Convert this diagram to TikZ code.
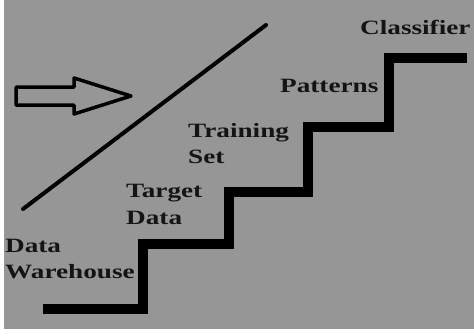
\documentclass[tikz,border=0pt]{standalone}
\usepackage{fontspec}
\setmainfont{Liberation Serif}[BoldFeatures={FakeStretch=1.34}]
\begin{document}
\begin{tikzpicture}[x=1pt,y=-1pt,
  lbl/.style={anchor=base west,inner sep=0pt,font=\fontsize{20.3}{26}\selectfont\bfseries,text=black!92},
  stairs/.style={line width=10pt,line cap=butt,line join=miter},
  slash/.style={line width=4pt,line cap=round},
  blockarrow/.style={line width=3.5pt,line join=round,fill=none}]
\useasboundingbox (0,0) rectangle (474,335);
\fill[white] (0,0) rectangle (474,335);
\fill[black!41] (4,0) rectangle (474,329);
% staircase
\coordinate (s0) at (43,309);
\coordinate (s1) at (143,309);
\coordinate (s2) at (143,244);
\coordinate (s3) at (229,244);
\coordinate (s4) at (229,192);
\coordinate (s5) at (308,192);
\coordinate (s6) at (308,127);
\coordinate (s7) at (389,127);
\coordinate (s8) at (389,58);
\coordinate (s9) at (467,58);
\draw[stairs] (s0) -- (s1) -- (s2) -- (s3) -- (s4) -- (s5) -- (s6) -- (s7) -- (s8) -- (s9);
% diagonal line
\coordinate (d0) at (23,209);
\coordinate (d1) at (266,25);
\draw[slash] (d0) -- (d1);
% block arrow
\draw[blockarrow] (16,87) -- (74,87) -- (74,78) -- (131,96) -- (74,114) -- (74,105) -- (16,105) -- cycle;
% labels
\node[lbl] (cls) at (360,34) {Classifier};
\node[lbl] (pat) at (280,92) {Patterns};
\node[lbl] (trn) at (188,137) {Training};
\node[lbl] (set) at (188,163) {Set};
\node[lbl] (tgt) at (126,197) {Target};
\node[lbl] (tdt) at (126,224) {Data};
\node[lbl] (dat) at (5,252) {Data};
\node[lbl] (wh) at (5,278) {Warehouse};
\end{tikzpicture}
\end{document}
